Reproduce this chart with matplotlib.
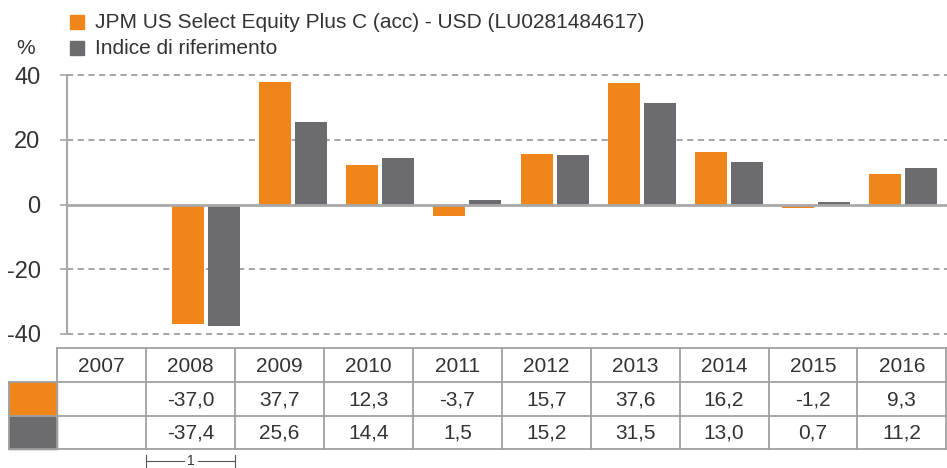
import matplotlib
matplotlib.use("Agg")
import matplotlib.pyplot as plt
from matplotlib.lines import Line2D
from matplotlib.patches import Rectangle

plt.rcParams['font.family'] = ['Liberation Sans', 'DejaVu Sans']

years = ["2007", "2008", "2009", "2010", "2011", "2012", "2013", "2014", "2015", "2016"]
fund = [None, -37.0, 37.7, 12.3, -3.7, 15.7, 37.6, 16.2, -1.2, 9.3]
index = [None, -37.4, 25.6, 14.4, 1.5, 15.2, 31.5, 13.0, 0.7, 11.2]
fund_name = "JPM US Select Equity Plus C (acc) - USD (LU0281484617)"
index_name = "Indice di riferimento"
yticks = [-40, -20, 0, 20, 40]

ORANGE = "#F08519"
GREY = "#6C6B70"
LINE = "#A8A8A8"
TXT = "#333333"

W, H = 947, 468
fig = plt.figure(figsize=(W / 100, H / 100), dpi=100)

ov = fig.add_axes([0, 0, 1, 1])
ov.set_xlim(0, W)
ov.set_ylim(H, 0)
ov.axis("off")

left, right, top, bottom = 67, 947, 75, 334
ax = fig.add_axes([left / W, 1 - bottom / H, (right - left) / W, (bottom - top) / H])
ax.set_ylim(-40, 40)
ax.set_xlim(-0.596, 9.504)
for s in ["top", "right", "bottom"]:
    ax.spines[s].set_visible(False)
ax.spines["left"].set_color(LINE)
ax.spines["left"].set_linewidth(1.5)
ax.set_xticks([])
ax.set_yticks(yticks)
ax.set_yticklabels([str(v) for v in yticks], fontsize=17, color=TXT)
ax.tick_params(axis="y", length=5, width=1.2, color=LINE, pad=14)
ax.set_facecolor("none")

for v in yticks:
    if v == 0:
        ax.axhline(0, color=LINE, lw=2, zorder=3)
    else:
        ax.axhline(v, color="#8C8C8C", lw=1.1, ls=(0, (4, 3)), zorder=1, clip_on=False)

bw = 0.367
off = 0.207
for i, (f, g) in enumerate(zip(fund, index)):
    if f is not None:
        ax.bar(i - off, f, width=bw, color=ORANGE, zorder=2)
    if g is not None:
        ax.bar(i + off, g, width=bw, color=GREY, zorder=2)

ov.text(26, 48, "%", fontsize=15, ha="center", va="center", color=TXT)

ov.add_patch(Rectangle((70, 15), 14, 14, color=ORANGE))
ov.text(95, 22, fund_name, fontsize=15, va="center", ha="left", color=TXT)
ov.add_patch(Rectangle((70, 41), 14, 14, color=GREY))
ov.text(95, 48, index_name, fontsize=15, va="center", ha="left", color=TXT)

tl, cw = 57.3, 88.9
rows = [348.3, 381.7, 415.7, 449.0]
tcol = "#A0A0A0"
tr = W - 1
ov.add_line(Line2D([tl, tr], [rows[0], rows[0]], color=tcol, lw=1.3))
for yy in rows[1:]:
    ov.add_line(Line2D([9.3, tr], [yy, yy], color=tcol, lw=1.3))
for j in range(len(years) + 1):
    x = tl + j * cw
    if x > W:
        break
    ov.add_line(Line2D([x, x], [rows[0], rows[3]], color=tcol, lw=1.3))
ov.add_line(Line2D([9.3, 9.3], [rows[1], rows[3]], color=tcol, lw=1.3))
ov.add_patch(Rectangle((9.3, rows[1]), tl - 9.3, rows[2] - rows[1], color=ORANGE, zorder=0))
ov.add_patch(Rectangle((9.3, rows[2]), tl - 9.3, rows[3] - rows[2], color=GREY, zorder=0))

def fmt(v):
    return "" if v is None else f"{v:.1f}".replace(".", ",")

for j, y in enumerate(years):
    cx = tl + (j + 0.5) * cw
    ov.text(cx, (rows[0] + rows[1]) / 2 + 1, y, fontsize=15, ha="center", va="center", color=TXT)
    ov.text(cx, (rows[1] + rows[2]) / 2 + 1, fmt(fund[j]), fontsize=15, ha="center", va="center", color=TXT)
    ov.text(cx, (rows[2] + rows[3]) / 2 + 1, fmt(index[j]), fontsize=15, ha="center", va="center", color=TXT)

bx0, bx1 = tl + cw, tl + 2 * cw
by = 461
ov.add_line(Line2D([bx0, bx0], [455, 468], color="#555555", lw=0.8))
ov.add_line(Line2D([bx1, bx1], [455, 468], color="#555555", lw=0.8))
ov.add_line(Line2D([bx0, (bx0 + bx1) / 2 - 7], [by, by], color="#555555", lw=0.8))
ov.add_line(Line2D([(bx0 + bx1) / 2 + 7, bx1], [by, by], color="#555555", lw=0.8))
ov.text((bx0 + bx1) / 2, by, "1", fontsize=10, ha="center", va="center", color=TXT)

fig.savefig("out.png", dpi=100)
